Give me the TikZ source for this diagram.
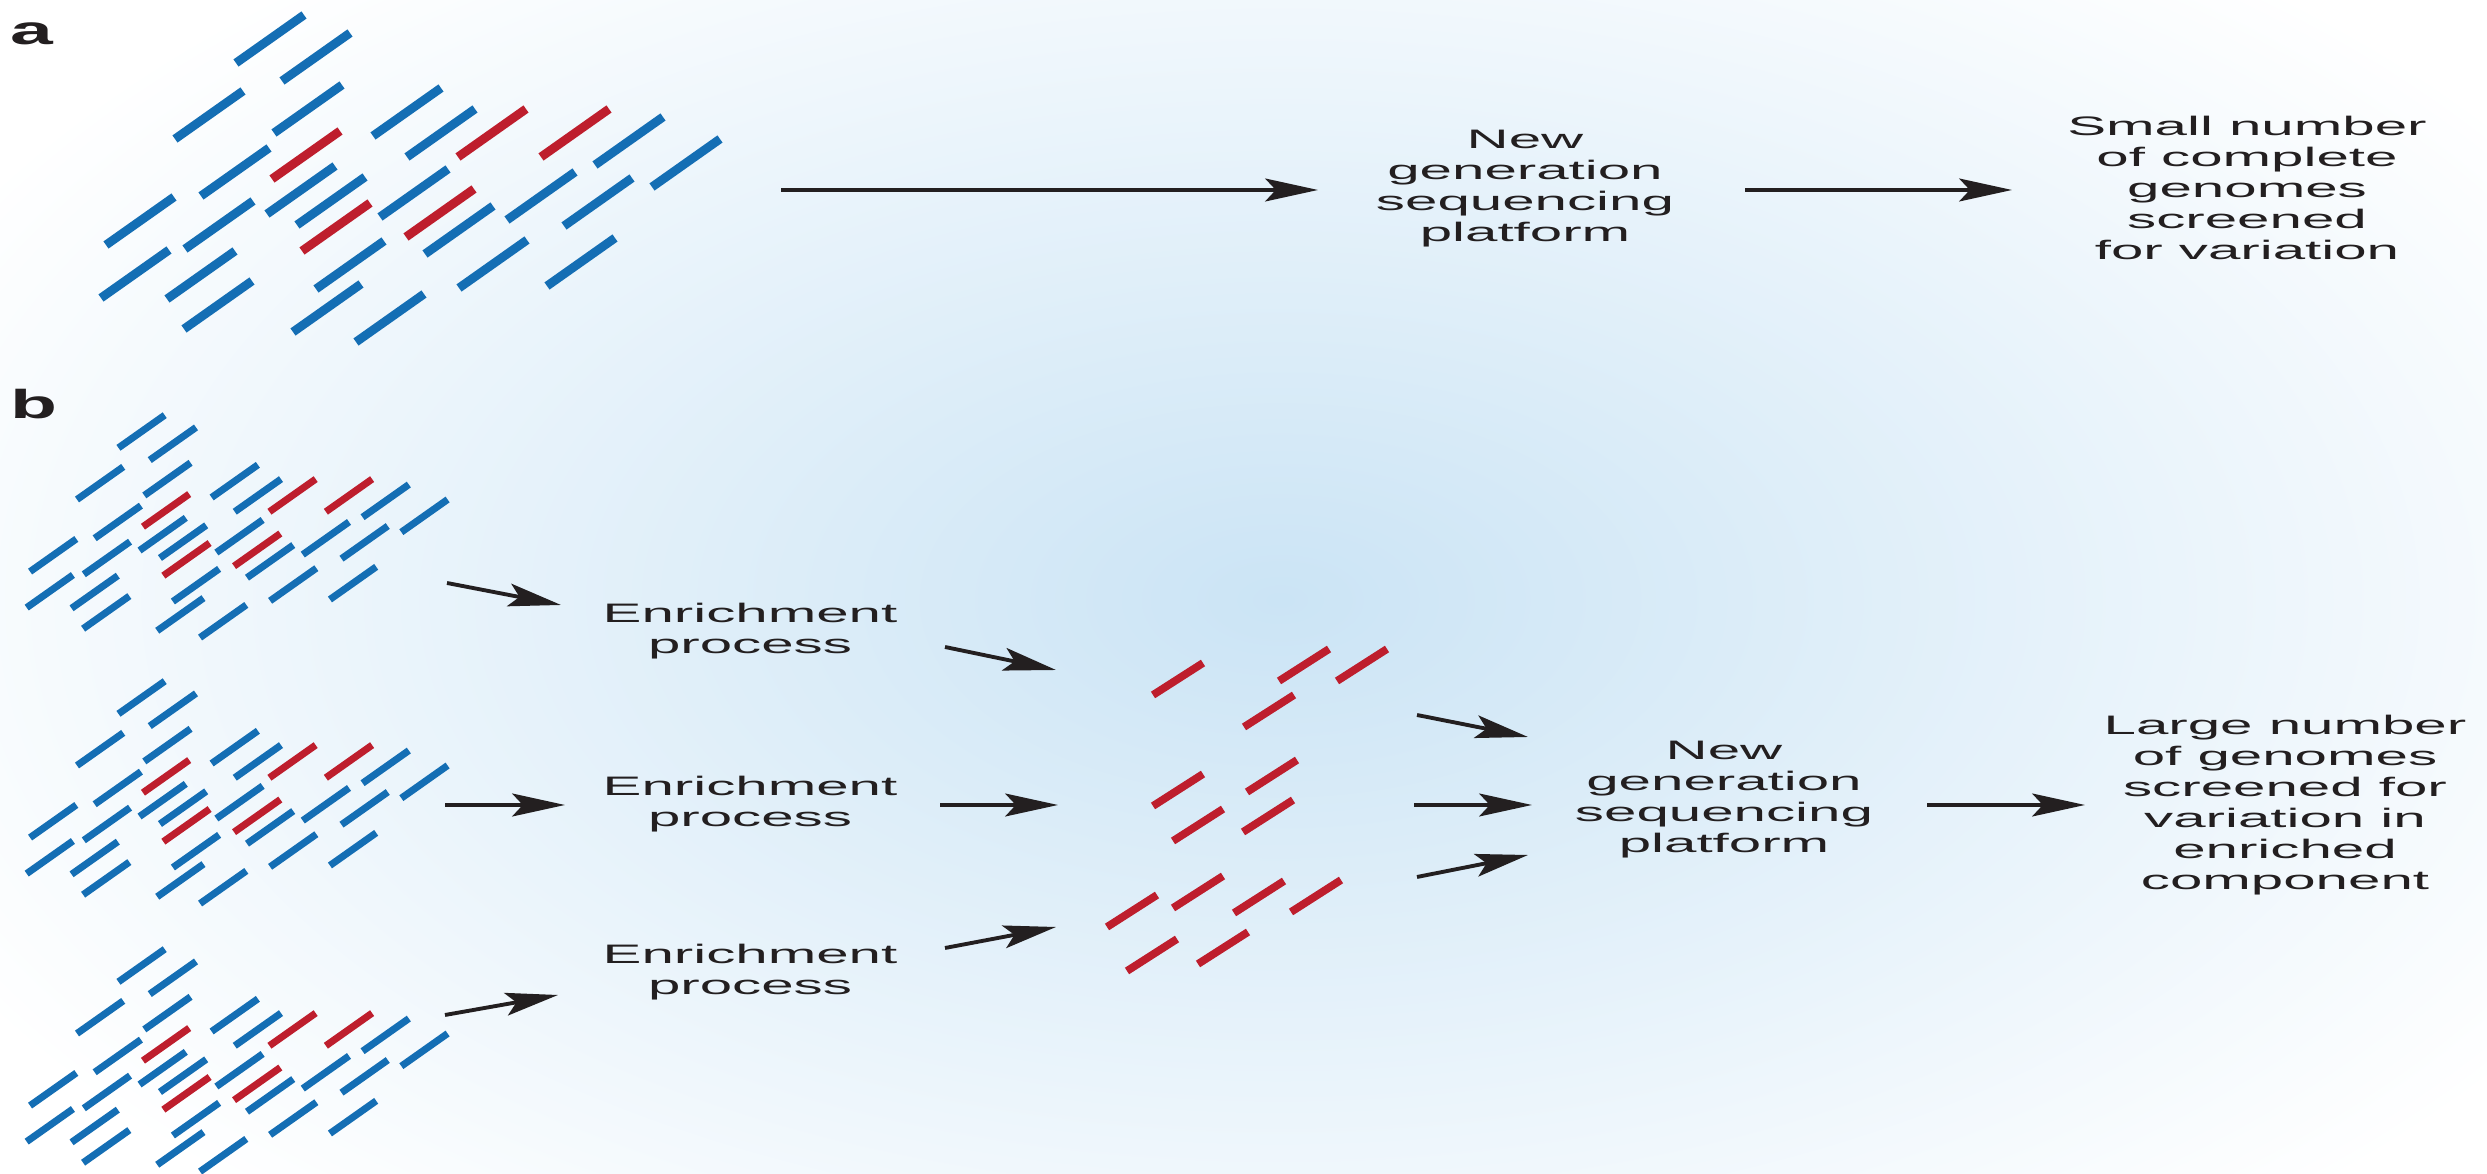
\documentclass[tikz,border=0pt]{standalone}
\usepackage{fontspec}
\setmainfont{Liberation Sans}[FakeStretch=2.18]
\newfontfamily\panelfont{Liberation Sans}[FakeStretch=1.9]
\usetikzlibrary{arrows.meta,positioning}
\definecolor{seqblue}{RGB}{20,110,180}
\definecolor{seqred}{RGB}{190,30,45}
\definecolor{bgblue}{RGB}{203,228,245}
\definecolor{ink}{RGB}{35,31,32}
\tikzset{txt/.style={align=center, text=ink, font=\fontsize{7.6}{8.8}\selectfont}}
\tikzset{panel/.style={text=ink, font=\panelfont\bfseries\fontsize{11.5}{12}\selectfont}}
\tikzset{line/.style={draw, ink, line width=1.1pt, -{Stealth[length=15pt,width=6.5pt,inset=3pt]}}}
\tikzset{frag/.style={seqred, line width=2.2pt}}
% one genome: the read pattern of panel a, midpoints in pixels
\tikzset{genome/.pic={
	\foreach \x/\y/\c in {270/39/seqblue, 316/57/seqblue, 209/115/seqblue, 308/109/seqblue,
		407/112/seqblue, 441/133/seqblue, 492/133/seqred, 575/133/seqred, 629/141/seqblue,
		686/163/seqblue, 306/155/seqred, 235/172/seqblue, 301/190/seqblue, 331/201/seqblue,
		414/193/seqblue, 541/196/seqblue, 598/202/seqblue, 140/221/seqblue, 219/225/seqblue,
		336/227/seqred, 440/213/seqred, 459/230/seqblue, 135/274/seqblue, 201/275/seqblue,
		350/265/seqblue, 493/264/seqblue, 581/262/seqblue, 218/305/seqblue, 327/308/seqblue,
		390/318/seqblue}
		\draw [\c] (\x,\y) ++(-34,24) -- ++(68,-48);
}}

\begin{document}
\begin{tikzpicture}[x=0.01cm, y=-0.01cm]
		\useasboundingbox (0,0) rectangle (2487,1174);
		\begin{scope}
			\clip (0,0) rectangle (2487,1174);
			\fill [white] (0,0) rectangle (2487,1174);
			\shade [inner color=bgblue, outer color=white] (1280,600) ellipse (1500 and 820);
		\end{scope}

		% panel a
		\node [panel]							(la)	at (32,34)		{a};
		\pic [line width=2.5pt]					(ga)	at (0,0)		{genome};
		\node [txt]								(ngsa)	at (1525,189)	{New\\generation\\sequencing\\platform};
		\node [txt]								(resa)	at (2247,188)	{Small number\\of complete\\genomes\\screened\\for variation};

		\coordinate (gar) at (781,190);
		\coordinate (ngsal) at (1318,190);
		\coordinate (ngsar) at (1745,190);
		\coordinate (resal) at (2012,190);
		\path [line] (gar) -- (ngsal);
		\path [line] (ngsar) -- (resal);

		% panel b
		\node [panel]							(lb)	at (34,404)		{b};
		\pic [line width=2pt, scale=0.68]		(gb1)	at (-42,405)	{genome};
		\pic [line width=2pt, scale=0.68]		(gb2)	at (-42,671)	{genome};
		\pic [line width=2pt, scale=0.68]		(gb3)	at (-42,939)	{genome};

		\node [txt]								(enr1)	at (750,631)	{Enrichment\\process};
		\node [txt]								(enr2)	at (750,804)	{Enrichment\\process};
		\node [txt]								(enr3)	at (750,972)	{Enrichment\\process};

		% enriched reads
		\foreach \x/\y in {1178/679, 1304/665, 1362/665, 1269/711,
			1178/790, 1272/776, 1198/825, 1268/816,
			1132/911, 1198/892, 1259/897, 1316/896, 1152/955, 1223/948}
			\draw [frag] (\x,\y) ++(-25,16) -- ++(50,-32);

		\node [txt]								(ngsb)	at (1724,800)	{New\\generation\\sequencing\\platform};
		\node [txt]								(resb)	at (2285,805)	{Large number\\of genomes\\screened for\\variation in\\enriched\\component};

		\coordinate (gb1r) at (447,583);	\coordinate (enr1l) at (561,605);
		\coordinate (gb2r) at (445,805);	\coordinate (enr2l) at (565,805);
		\coordinate (gb3r) at (445,1015);	\coordinate (enr3l) at (558,995);
		\coordinate (enr1r) at (945,647);	\coordinate (fr1l) at (1056,670);
		\coordinate (enr2r) at (940,805);	\coordinate (fr2l) at (1058,805);
		\coordinate (enr3r) at (945,948);	\coordinate (fr3l) at (1056,927);
		\coordinate (fr1r) at (1417,715);	\coordinate (ngsb1) at (1528,737);
		\coordinate (fr2r) at (1414,805);	\coordinate (ngsb2) at (1532,805);
		\coordinate (fr3r) at (1417,877);	\coordinate (ngsb3) at (1528,855);
		\coordinate (ngsbr) at (1927,805);	\coordinate (resbl) at (2085,805);

		\path [line] (gb1r) -- (enr1l);
		\path [line] (gb2r) -- (enr2l);
		\path [line] (gb3r) -- (enr3l);
		\path [line] (enr1r) -- (fr1l);
		\path [line] (enr2r) -- (fr2l);
		\path [line] (enr3r) -- (fr3l);
		\path [line] (fr1r) -- (ngsb1);
		\path [line] (fr2r) -- (ngsb2);
		\path [line] (fr3r) -- (ngsb3);
		\path [line] (ngsbr) -- (resbl);
	\end{tikzpicture}
\end{document}
